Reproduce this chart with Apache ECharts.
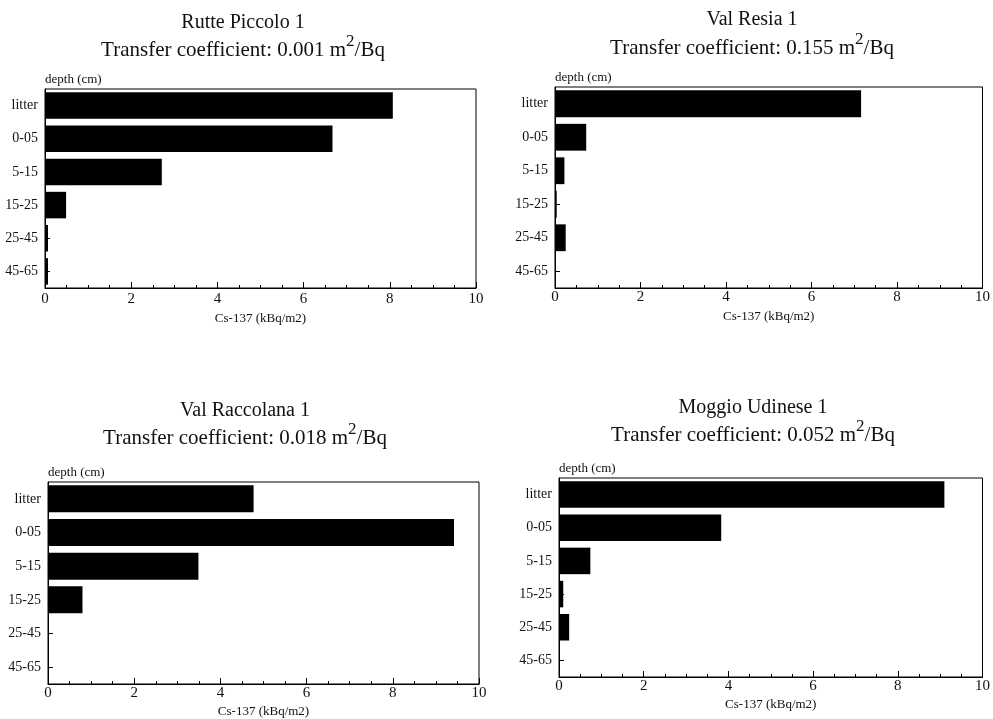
<!DOCTYPE html>
<html>
<head>
<meta charset="utf-8">
<script src="https://cdn.jsdelivr.net/npm/echarts@6/dist/echarts.min.js"></script>
<style>html,body{margin:0;padding:0;background:#fff}#c{width:993px;height:719px}</style>
</head>
<body>
<div id="c"></div>
<script>
// ---- data ----
const depths = ['litter', '0-05', '5-15', '15-25', '25-45', '45-65'];
const siteNames = ['Rutte Piccolo 1', 'Val Resia 1', 'Val Raccolana 1', 'Moggio Udinese 1'];
const transferCoeffs = ['0.001', '0.155', '0.018', '0.052'];
const rutteValues = [8.07, 6.67, 2.71, 0.49, 0.07, 0.07];
const resiaValues = [7.16, 0.73, 0.22, 0.04, 0.25, 0];
const raccolanaValues = [4.77, 9.42, 3.49, 0.80, 0, 0];
const moggioValues = [9.10, 3.83, 0.74, 0.10, 0.24, 0];
const xTicks = [0, 2, 4, 6, 8, 10];
const xAxisName = 'Cs-137 (kBq/m2)';
const yAxisName = 'depth (cm)';

const seriesValues = [rutteValues, resiaValues, raccolanaValues, moggioValues];

// ---- layout (per panel) ----
const layouts = [
  {left: 45, top: 89, width: 431, height: 199, t1: 23, t2: 47, tx: 243, lm: 4, ng: 24},
  {left: 555, top: 87, width: 432, height: 201, t1: 20, t2: 45, tx: 752, lm: 2, ng: 22},
  {left: 48, top: 482, width: 431, height: 202, t1: 411, t2: 435, tx: 245, lm: 2, ng: 21},
  {left: 559, top: 478, width: 429, height: 199, t1: 408, t2: 432, tx: 753, lm: 2, ng: 21}
];

const FONT = '"Liberation Serif", "Times New Roman", serif';
const INK = '#111';

const grids = [], xAxes = [], yAxes = [], series = [], graphics = [];
layouts.forEach((L, i) => {
  grids.push({left: L.left, top: L.top, width: L.width, height: L.height,
    show: true, borderColor: '#000', borderWidth: 1, backgroundColor: 'transparent'});
  xAxes.push({
    gridIndex: i, type: 'value', min: xTicks[0], max: xTicks[xTicks.length - 1], interval: 2,
    name: xAxisName, nameLocation: 'middle', nameGap: L.ng,
    nameTextStyle: {fontFamily: FONT, fontSize: 13, color: INK},
    axisLine: {show: true, lineStyle: {color: '#000', width: 1}},
    axisTick: {show: true, inside: true, length: 6, lineStyle: {color: '#000'}},
    minorTick: {show: true, splitNumber: 4, length: 3, lineStyle: {color: '#000'}},
    splitLine: {show: false},
    axisLabel: {fontFamily: FONT, fontSize: 15, color: INK, margin: L.lm}
  });
  yAxes.push({
    gridIndex: i, type: 'category', data: depths, inverse: true,
    axisLine: {show: true, lineStyle: {color: '#000', width: 1}},
    axisTick: {show: true, inside: true, length: 5, alignWithLabel: true, lineStyle: {color: '#000'}},
    splitLine: {show: false},
    axisLabel: {fontFamily: FONT, fontSize: 14, color: INK, margin: 7}
  });
  series.push({
    type: 'bar', xAxisIndex: i, yAxisIndex: i, data: seriesValues[i],
    barCategoryGap: '20%', itemStyle: {color: '#000'}, silent: true
  });
  graphics.push({
    type: 'text', x: L.tx, y: L.t1,
    style: {text: siteNames[i], font: '20px ' + FONT, fill: INK, align: 'center', verticalAlign: 'middle'}
  });
  graphics.push({
    type: 'text', x: L.tx, y: L.t2,
    style: {
      text: '{t|Transfer coefficient: ' + transferCoeffs[i] + ' m}{s|2}{t|/Bq}',
      align: 'center', verticalAlign: 'middle', fill: INK,
      rich: {
        t: {fontFamily: FONT, fontSize: 21, fill: INK, lineHeight: 28, verticalAlign: 'bottom'},
        s: {fontFamily: FONT, fontSize: 17, fill: INK, lineHeight: 17, verticalAlign: 'top'}
      }
    }
  });
  graphics.push({
    type: 'text', x: L.left, y: L.top - 9,
    style: {text: yAxisName, font: '13px ' + FONT, fill: INK, align: 'left', verticalAlign: 'middle'}
  });
});

const chart = echarts.init(document.getElementById('c'), null, {renderer: 'canvas'});
chart.setOption({
  animation: false,
  backgroundColor: '#fff',
  grid: grids, xAxis: xAxes, yAxis: yAxes, series: series, graphic: graphics
});
</script>
</body>
</html>
